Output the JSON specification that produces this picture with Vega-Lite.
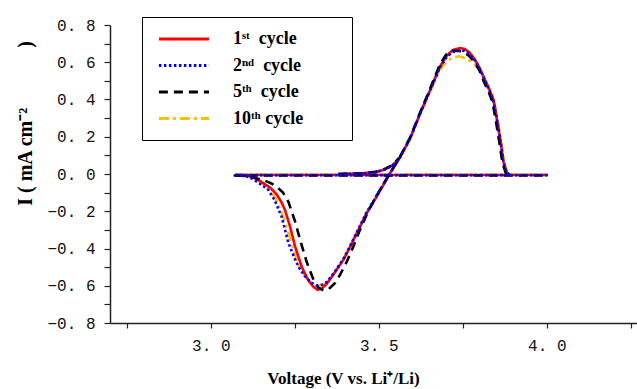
{
"$schema": "https://vega.github.io/schema/vega-lite/v6.json",
"width": 527, "height": 298,
"autosize": {"type": "none"},
"padding": {"left": 110, "top": 25, "right": 0, "bottom": 66},
"background": "white",
"config": {"view": {"stroke": null}, "font": "Liberation Serif"},
"data": {"values": [
{"c":"10","s":"b","v":3.072,"i":-0.004},{"c":"10","s":"b","v":4.004,"i":-0.004},
{"c":"10","s":"u","v":3.38,"i":0.0},{"c":"10","s":"u","v":3.45,"i":0.003},{"c":"10","s":"u","v":3.49,"i":0.01},{"c":"10","s":"u","v":3.515,"i":0.022},{"c":"10","s":"u","v":3.54,"i":0.045},{"c":"10","s":"u","v":3.56,"i":0.08},
{"c":"10","s":"m","v":3.075,"i":-0.004},{"c":"10","s":"m","v":3.1,"i":-0.006},{"c":"10","s":"m","v":3.12,"i":-0.015},{"c":"10","s":"m","v":3.145,"i":-0.04},{"c":"10","s":"m","v":3.165,"i":-0.07},{"c":"10","s":"m","v":3.19,"i":-0.12},{"c":"10","s":"m","v":3.21,"i":-0.2},{"c":"10","s":"m","v":3.228,"i":-0.3},{"c":"10","s":"m","v":3.245,"i":-0.4},{"c":"10","s":"m","v":3.262,"i":-0.49},{"c":"10","s":"m","v":3.28,"i":-0.55},{"c":"10","s":"m","v":3.3,"i":-0.585},{"c":"10","s":"m","v":3.32,"i":-0.6},{"c":"10","s":"m","v":3.335,"i":-0.595},{"c":"10","s":"m","v":3.35,"i":-0.575},{"c":"10","s":"m","v":3.37,"i":-0.525},{"c":"10","s":"m","v":3.395,"i":-0.455},{"c":"10","s":"m","v":3.415,"i":-0.39},{"c":"10","s":"m","v":3.434,"i":-0.32},{"c":"10","s":"m","v":3.464,"i":-0.21},{"c":"10","s":"m","v":3.494,"i":-0.12},{"c":"10","s":"m","v":3.515,"i":-0.055},{"c":"10","s":"m","v":3.532,"i":0.0},{"c":"10","s":"m","v":3.563,"i":0.088},{"c":"10","s":"m","v":3.593,"i":0.185},{"c":"10","s":"m","v":3.623,"i":0.32},{"c":"10","s":"m","v":3.653,"i":0.445},{"c":"10","s":"m","v":3.682,"i":0.56},{"c":"10","s":"m","v":3.7,"i":0.6},{"c":"10","s":"m","v":3.72,"i":0.625},{"c":"10","s":"m","v":3.74,"i":0.632},{"c":"10","s":"m","v":3.76,"i":0.62},{"c":"10","s":"m","v":3.785,"i":0.59},{"c":"10","s":"m","v":3.8,"i":0.555},{"c":"10","s":"m","v":3.815,"i":0.51},{"c":"10","s":"m","v":3.83,"i":0.455},{"c":"10","s":"m","v":3.843,"i":0.4},{"c":"10","s":"m","v":3.853,"i":0.3},{"c":"10","s":"m","v":3.863,"i":0.19},{"c":"10","s":"m","v":3.873,"i":0.065},{"c":"10","s":"m","v":3.882,"i":0.01},{"c":"10","s":"m","v":3.892,"i":-0.004},
{"c":"1","s":"b","v":3.072,"i":-0.005},{"c":"1","s":"b","v":4.004,"i":-0.005},
{"c":"1","s":"u","v":3.38,"i":0.0},{"c":"1","s":"u","v":3.45,"i":0.003},{"c":"1","s":"u","v":3.49,"i":0.01},{"c":"1","s":"u","v":3.515,"i":0.022},{"c":"1","s":"u","v":3.54,"i":0.045},{"c":"1","s":"u","v":3.56,"i":0.08},
{"c":"1","s":"m","v":3.075,"i":-0.005},{"c":"1","s":"m","v":3.1,"i":-0.007},{"c":"1","s":"m","v":3.122,"i":-0.015},{"c":"1","s":"m","v":3.14,"i":-0.03},{"c":"1","s":"m","v":3.157,"i":-0.05},{"c":"1","s":"m","v":3.178,"i":-0.075},{"c":"1","s":"m","v":3.196,"i":-0.11},{"c":"1","s":"m","v":3.21,"i":-0.15},{"c":"1","s":"m","v":3.221,"i":-0.194},{"c":"1","s":"m","v":3.236,"i":-0.283},{"c":"1","s":"m","v":3.251,"i":-0.39},{"c":"1","s":"m","v":3.271,"i":-0.5},{"c":"1","s":"m","v":3.29,"i":-0.57},{"c":"1","s":"m","v":3.305,"i":-0.605},{"c":"1","s":"m","v":3.318,"i":-0.622},{"c":"1","s":"m","v":3.33,"i":-0.615},{"c":"1","s":"m","v":3.345,"i":-0.59},{"c":"1","s":"m","v":3.365,"i":-0.54},{"c":"1","s":"m","v":3.395,"i":-0.46},{"c":"1","s":"m","v":3.415,"i":-0.39},{"c":"1","s":"m","v":3.434,"i":-0.32},{"c":"1","s":"m","v":3.464,"i":-0.21},{"c":"1","s":"m","v":3.494,"i":-0.12},{"c":"1","s":"m","v":3.515,"i":-0.055},{"c":"1","s":"m","v":3.532,"i":0.0},{"c":"1","s":"m","v":3.563,"i":0.09},{"c":"1","s":"m","v":3.593,"i":0.19},{"c":"1","s":"m","v":3.623,"i":0.326},{"c":"1","s":"m","v":3.653,"i":0.452},{"c":"1","s":"m","v":3.682,"i":0.577},{"c":"1","s":"m","v":3.702,"i":0.635},{"c":"1","s":"m","v":3.72,"i":0.665},{"c":"1","s":"m","v":3.74,"i":0.676},{"c":"1","s":"m","v":3.755,"i":0.672},{"c":"1","s":"m","v":3.77,"i":0.652},{"c":"1","s":"m","v":3.785,"i":0.618},{"c":"1","s":"m","v":3.8,"i":0.57},{"c":"1","s":"m","v":3.815,"i":0.51},{"c":"1","s":"m","v":3.83,"i":0.45},{"c":"1","s":"m","v":3.841,"i":0.4},{"c":"1","s":"m","v":3.851,"i":0.3},{"c":"1","s":"m","v":3.861,"i":0.19},{"c":"1","s":"m","v":3.871,"i":0.065},{"c":"1","s":"m","v":3.88,"i":0.01},{"c":"1","s":"m","v":3.89,"i":-0.005},
{"c":"5","s":"b","v":3.068,"i":-0.008},{"c":"5","s":"b","v":4.004,"i":-0.008},
{"c":"5","s":"u","v":3.38,"i":0.0},{"c":"5","s":"u","v":3.45,"i":0.004},{"c":"5","s":"u","v":3.49,"i":0.012},{"c":"5","s":"u","v":3.515,"i":0.025},{"c":"5","s":"u","v":3.54,"i":0.048},{"c":"5","s":"u","v":3.56,"i":0.085},
{"c":"5","s":"m","v":3.075,"i":-0.008},{"c":"5","s":"m","v":3.1,"i":-0.01},{"c":"5","s":"m","v":3.13,"i":-0.02},{"c":"5","s":"m","v":3.16,"i":-0.035},{"c":"5","s":"m","v":3.18,"i":-0.05},{"c":"5","s":"m","v":3.196,"i":-0.068},{"c":"5","s":"m","v":3.215,"i":-0.1},{"c":"5","s":"m","v":3.231,"i":-0.149},{"c":"5","s":"m","v":3.251,"i":-0.256},{"c":"5","s":"m","v":3.266,"i":-0.355},{"c":"5","s":"m","v":3.285,"i":-0.47},{"c":"5","s":"m","v":3.305,"i":-0.565},{"c":"5","s":"m","v":3.32,"i":-0.61},{"c":"5","s":"m","v":3.335,"i":-0.625},{"c":"5","s":"m","v":3.35,"i":-0.62},{"c":"5","s":"m","v":3.37,"i":-0.585},{"c":"5","s":"m","v":3.385,"i":-0.54},{"c":"5","s":"m","v":3.405,"i":-0.47},{"c":"5","s":"m","v":3.424,"i":-0.39},{"c":"5","s":"m","v":3.444,"i":-0.3},{"c":"5","s":"m","v":3.47,"i":-0.195},{"c":"5","s":"m","v":3.494,"i":-0.115},{"c":"5","s":"m","v":3.515,"i":-0.05},{"c":"5","s":"m","v":3.532,"i":0.0},{"c":"5","s":"m","v":3.563,"i":0.092},{"c":"5","s":"m","v":3.593,"i":0.195},{"c":"5","s":"m","v":3.623,"i":0.33},{"c":"5","s":"m","v":3.653,"i":0.46},{"c":"5","s":"m","v":3.68,"i":0.58},{"c":"5","s":"m","v":3.7,"i":0.64},{"c":"5","s":"m","v":3.72,"i":0.662},{"c":"5","s":"m","v":3.74,"i":0.66},{"c":"5","s":"m","v":3.755,"i":0.652},{"c":"5","s":"m","v":3.77,"i":0.632},{"c":"5","s":"m","v":3.785,"i":0.6},{"c":"5","s":"m","v":3.8,"i":0.555},{"c":"5","s":"m","v":3.812,"i":0.5},{"c":"5","s":"m","v":3.827,"i":0.44},{"c":"5","s":"m","v":3.838,"i":0.39},{"c":"5","s":"m","v":3.848,"i":0.29},{"c":"5","s":"m","v":3.858,"i":0.18},{"c":"5","s":"m","v":3.868,"i":0.06},{"c":"5","s":"m","v":3.878,"i":0.005},{"c":"5","s":"m","v":3.888,"i":-0.008},
{"c":"2","s":"b","v":3.072,"i":-0.006},{"c":"2","s":"b","v":4.004,"i":-0.006},
{"c":"2","s":"u","v":3.38,"i":0.0},{"c":"2","s":"u","v":3.45,"i":0.003},{"c":"2","s":"u","v":3.49,"i":0.01},{"c":"2","s":"u","v":3.515,"i":0.022},{"c":"2","s":"u","v":3.54,"i":0.045},{"c":"2","s":"u","v":3.56,"i":0.08},
{"c":"2","s":"m","v":3.075,"i":-0.006},{"c":"2","s":"m","v":3.1,"i":-0.01},{"c":"2","s":"m","v":3.118,"i":-0.02},{"c":"2","s":"m","v":3.14,"i":-0.045},{"c":"2","s":"m","v":3.16,"i":-0.07},{"c":"2","s":"m","v":3.171,"i":-0.085},{"c":"2","s":"m","v":3.19,"i":-0.14},{"c":"2","s":"m","v":3.211,"i":-0.23},{"c":"2","s":"m","v":3.231,"i":-0.37},{"c":"2","s":"m","v":3.251,"i":-0.46},{"c":"2","s":"m","v":3.265,"i":-0.51},{"c":"2","s":"m","v":3.281,"i":-0.55},{"c":"2","s":"m","v":3.3,"i":-0.585},{"c":"2","s":"m","v":3.315,"i":-0.598},{"c":"2","s":"m","v":3.33,"i":-0.595},{"c":"2","s":"m","v":3.345,"i":-0.58},{"c":"2","s":"m","v":3.365,"i":-0.535},{"c":"2","s":"m","v":3.395,"i":-0.455},{"c":"2","s":"m","v":3.415,"i":-0.385},{"c":"2","s":"m","v":3.434,"i":-0.315},{"c":"2","s":"m","v":3.464,"i":-0.205},{"c":"2","s":"m","v":3.494,"i":-0.115},{"c":"2","s":"m","v":3.515,"i":-0.05},{"c":"2","s":"m","v":3.532,"i":0.0},{"c":"2","s":"m","v":3.563,"i":0.09},{"c":"2","s":"m","v":3.593,"i":0.19},{"c":"2","s":"m","v":3.623,"i":0.324},{"c":"2","s":"m","v":3.653,"i":0.45},{"c":"2","s":"m","v":3.682,"i":0.572},{"c":"2","s":"m","v":3.702,"i":0.628},{"c":"2","s":"m","v":3.72,"i":0.655},{"c":"2","s":"m","v":3.74,"i":0.664},{"c":"2","s":"m","v":3.755,"i":0.66},{"c":"2","s":"m","v":3.77,"i":0.645},{"c":"2","s":"m","v":3.785,"i":0.612},{"c":"2","s":"m","v":3.8,"i":0.565},{"c":"2","s":"m","v":3.815,"i":0.505},{"c":"2","s":"m","v":3.83,"i":0.445},{"c":"2","s":"m","v":3.841,"i":0.395},{"c":"2","s":"m","v":3.851,"i":0.3},{"c":"2","s":"m","v":3.861,"i":0.19},{"c":"2","s":"m","v":3.871,"i":0.065},{"c":"2","s":"m","v":3.88,"i":0.01},{"c":"2","s":"m","v":3.89,"i":-0.006}
]},
"mark": {"type": "line", "strokeWidth": 2.6},
"encoding": {
"x": {"field": "v", "type": "quantitative",
 "scale": {"domain": [2.7, 4.2685], "nice": false, "zero": false},
 "axis": {"values": [2.75, 3, 3.25, 3.5, 3.75, 4, 4.25],
  "labelExpr": "abs(datum.value*2 - round(datum.value*2)) < 0.01 ? replace(format(datum.value,'.1f'),'.','. ') : ''",
  "title": "Voltage (V vs. Li⁺/Li)", "grid": false, "tickSize": 5, "tickWidth": 1.2, "tickColor": "#222",
  "domainColor": "#222", "domainWidth": 1.5, "labelFont": "Liberation Mono", "labelFontSize": 16, "labelColor": "#111",
  "labelPadding": 9, "labelOverlap": false, "labelFlush": false,
  "titleFont": "Liberation Serif", "titleFontWeight": "bold", "titleFontSize": 17, "titleColor": "#000",
  "titleX": 233, "titleY": 55, "titleBaseline": "middle", "titleAlign": "center"}},
"y": {"field": "i", "type": "quantitative",
 "scale": {"domain": [-0.8, 0.8], "nice": false, "zero": false},
 "axis": {"values": [-0.8,-0.7,-0.6,-0.5,-0.4,-0.3,-0.2,-0.1,0,0.1,0.2,0.3,0.4,0.5,0.6,0.7,0.8],
  "labelExpr": "abs(round(datum.value*10)) % 2 == 0 ? replace(format(datum.value,'.1f'),'.','. ') : ''",
  "title": "I ( mA cm⁻²\u2003\u2003\u2003)", "grid": false, "tickSize": 6, "tickWidth": 1.2, "tickColor": "#222",
  "domainColor": "#222", "domainWidth": 1.5, "labelFont": "Liberation Mono", "labelFontSize": 16, "labelColor": "#111",
  "labelPadding": 9, "labelOverlap": false, "labelFlush": false,
  "titleFont": "Liberation Serif", "titleFontWeight": "bold", "titleFontSize": 20, "titleColor": "#000",
  "titleX": -85, "titleY": 98, "titleBaseline": "middle", "titleAlign": "center", "titleAngle": 270}},
"color": {"field": "c", "type": "nominal",
 "scale": {"domain": ["1", "2", "5", "10"], "range": ["#ff0000", "#0000ff", "#000000", "#ffc000"]},
 "legend": {"orient": "none", "legendX": 32, "legendY": -8, "title": null, "symbolType": "M-0.6,0H5.3", "symbolSize": 289,
  "symbolStrokeWidth": 3, "labelFont": "Liberation Serif", "labelFontWeight": "bold", "labelFontSize": 18, "labelColor": "#000",
  "labelOffset": 59, "rowPadding": 7.5, "padding": 12, "strokeColor": "#000", "fillColor": "white", "labelLimit": 300,
  "labelExpr": "{'1':'1ˢᵗ\u2002cycle\u2003\u2003\u200b','2':'2ⁿᵈ\u2002cycle\u2003\u2003\u200b','5':'5ᵗʰ\u2002cycle\u2003\u2003\u200b','10':'10ᵗʰ cycle\u2003\u2003\u200b'}[datum.label]"}},
"strokeDash": {"field": "c", "type": "nominal",
 "scale": {"domain": ["1", "2", "5", "10"], "range": [[1, 0], [2.5, 2.5], [9, 6], [10, 4, 3, 4]]},
 "legend": {"orient": "none", "legendX": 32, "legendY": -8, "title": null, "symbolType": "M-0.6,0H5.3", "symbolSize": 289,
  "symbolStrokeWidth": 3, "labelFont": "Liberation Serif", "labelFontWeight": "bold", "labelFontSize": 18, "labelColor": "#000",
  "labelOffset": 59, "rowPadding": 7.5, "padding": 12, "strokeColor": "#000", "fillColor": "white", "labelLimit": 300,
  "labelExpr": "{'1':'1ˢᵗ\u2002cycle\u2003\u2003\u200b','2':'2ⁿᵈ\u2002cycle\u2003\u2003\u200b','5':'5ᵗʰ\u2002cycle\u2003\u2003\u200b','10':'10ᵗʰ cycle\u2003\u2003\u200b'}[datum.label]"}},
"detail": {"field": "s"},
"order": {"value": null}
}
}
